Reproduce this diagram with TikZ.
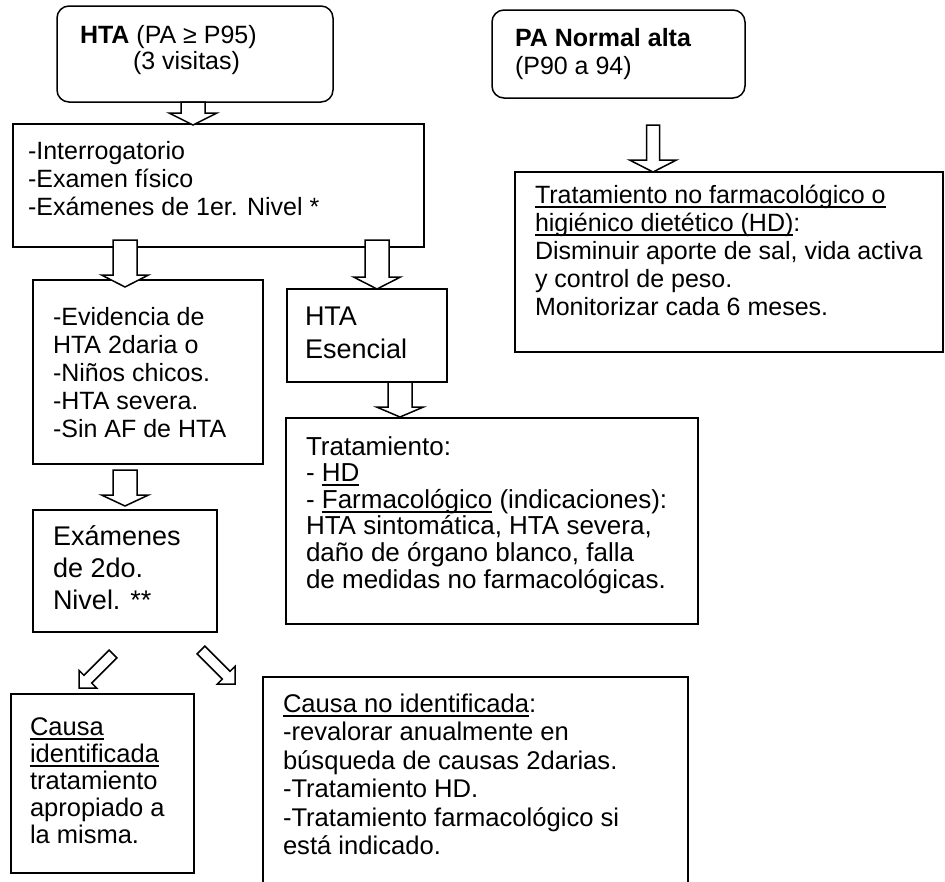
\documentclass[tikz,border=0pt]{standalone}
\usepackage{fontspec}
\setmainfont{Liberation Sans}
\usetikzlibrary{calc}

\newcommand\uln[1]{\leavevmode\setbox0\hbox{#1}\rlap{\rule[-4.6pt]{\wd0}{1.8pt}}\box0\relax}
\newcommand\lineat[5][25]{\node[txt,font=\fontsize{#1pt}{#1pt}\selectfont] (#2) at (#3,#4) {#5};}
\newcommand\blockarrow[5]{%
  \coordinate (#2-hb) at ($(#2)!#5!(#1)$);
  \draw[blk] ($(#1)!#3!90:(#2)$) -- ($(#2-hb)!#3!90:(#2)$) -- ($(#2-hb)!#4!90:(#2)$) -- (#2)
    -- ($(#2-hb)!#4!-90:(#2)$) -- ($(#2-hb)!#3!-90:(#2)$) -- ($(#1)!#3!-90:(#2)$) -- cycle;}

\begin{document}
\begin{tikzpicture}[x=1pt,y=-1pt,
  box/.style={draw, line width=1.5pt, anchor=north west, inner sep=0pt, outer sep=0pt},
  rbox/.style={box, rounded corners=12pt},
  txt/.style={anchor=base west, inner sep=0pt, outer sep=0pt},
  blk/.style={draw, fill=white, line width=1.5pt, line join=miter}]
\useasboundingbox[fill=white] (0,0) rectangle (945,881);

% boxes
\node[rbox, minimum width=276pt, minimum height=96pt] (b1) at (57,6) {};
\node[rbox, minimum width=253pt, minimum height=88pt] (r1) at (492,10) {};
\node[box, minimum width=411pt, minimum height=123pt] (b2) at (13,124) {};
\node[box, minimum width=428pt, minimum height=180pt] (r2) at (515,172) {};
\node[box, minimum width=230pt, minimum height=184pt] (b3) at (33,280) {};
\node[box, minimum width=160pt, minimum height=93pt] (he) at (287,289) {};
\node[box, minimum width=412pt, minimum height=206pt] (b5) at (286,418) {};
\node[box, minimum width=184pt, minimum height=122pt] (b4) at (33,510) {};
\node[box, minimum width=183pt, minimum height=179pt] (b6) at (11,694) {};
\node[anchor=north west, inner sep=0pt, outer sep=0pt, minimum width=425pt, minimum height=215pt] (b7) at (263,677) {};
\draw[line width=1.5pt] (b7.south west) -- (b7.north west) -- (b7.north east) -- (b7.south east);

% texts
\lineat{t11}{80}{43}{\textbf{HTA} (PA ≥ P95)}
\lineat{t12}{133}{69}{(3 visitas)}

\lineat{r11}{515}{46}{\textbf{PA Normal alta}}
\lineat{r12}{515}{74}{(P90 a 94)}

\lineat{t21}{28}{159}{-Interrogatorio}
\lineat{t22}{28}{187}{-Examen físico}
\lineat{t23}{28}{215}{-Exámenes de 1er. Nivel *}

\lineat{r21}{535}{203}{\uln{Tratamiento no farmacológico o}}
\lineat{r22}{535}{231}{\uln{higiénico dietético (HD)}:}
\lineat{r23}{535}{259}{Disminuir aporte de sal, vida activa}
\lineat{r24}{535}{287}{y control de peso.}
\lineat{r25}{535}{315}{Monitorizar cada 6 meses.}

\lineat{t31}{53}{325}{-Evidencia de}
\lineat{t32}{53}{353}{HTA 2daria o}
\lineat{t33}{53}{381}{-Niños chicos.}
\lineat{t34}{53}{409}{-HTA severa.}
\lineat{t35}{53}{437}{-Sin AF de HTA}

\lineat[27]{h1}{305}{325}{HTA}
\lineat[27]{h2}{305}{358}{Esencial}

\lineat[26]{t51}{306}{455}{Tratamiento:}
\lineat[26]{t52}{306}{481.6}{- \uln{HD}}
\lineat[26]{t53}{306}{508.2}{- \uln{Farmacológico} (indicaciones):}
\lineat[26]{t54}{306}{534.8}{HTA sintomática, HTA severa,}
\lineat[26]{t55}{306}{561.4}{daño de órgano blanco, falla}
\lineat[26]{t56}{306}{588}{de medidas no farmacológicas.}

\lineat[27]{t41}{53}{545}{Exámenes}
\lineat[27]{t42}{53}{577}{de 2do.}
\lineat[27]{t43}{53}{609}{Nivel. **}

\lineat[25.5]{t61}{30}{735}{\uln{Causa}}
\lineat[25.5]{t62}{30}{762}{\uln{identificada}}
\lineat[25.5]{t63}{30}{789}{tratamiento}
\lineat[25.5]{t64}{30}{816}{apropiado a}
\lineat[25.5]{t65}{30}{843}{la misma.}

\lineat[25.6]{t71}{283}{712}{\uln{Causa no identificada}:}
\lineat[25.6]{t72}{283}{740.5}{-revalorar anualmente en}
\lineat[25.6]{t73}{283}{769}{búsqueda de causas 2darias.}
\lineat[25.6]{t74}{283}{797.5}{-Tratamiento HD.}
\lineat[25.6]{t75}{283}{826}{-Tratamiento farmacológico si}
\lineat[25.6]{t76}{283}{854.5}{está indicado.}

% arrow end points
\coordinate (a1s) at (193,102); \coordinate (a1e) at (193,125);
\coordinate (a2s) at (125,240); \coordinate (a2e) at (125,287);
\coordinate (a3s) at (377,240); \coordinate (a3e) at (377,289);
\coordinate (a4s) at (125,470); \coordinate (a4e) at (125,506);
\coordinate (a5s) at (400,382); \coordinate (a5e) at (400,417);
\coordinate (ars) at (653,125); \coordinate (are) at (653,172);
\coordinate (d1s) at (113,654); \coordinate (d1e) at (79,688);
\coordinate (d2s) at (201,650); \coordinate (d2e) at (235,684);

\blockarrow{a1s}{a1e}{12pt}{24pt}{12pt}
\blockarrow{a2s}{a2e}{12pt}{23.5pt}{12pt}
\blockarrow{a3s}{a3e}{12pt}{23.5pt}{12pt}
\blockarrow{a4s}{a4e}{12pt}{23.5pt}{11pt}
\blockarrow{a5s}{a5e}{12pt}{23.5pt}{10pt}
\blockarrow{ars}{are}{6.5pt}{23.5pt}{12pt}
\blockarrow{d1s}{d1e}{5.5pt}{12.5pt}{12.5pt}
\blockarrow{d2s}{d2e}{5.5pt}{12.5pt}{12.5pt}
\end{tikzpicture}
\end{document}
